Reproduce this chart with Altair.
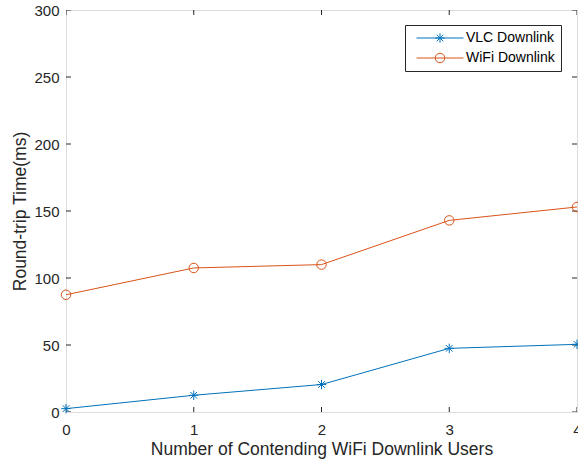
import altair as alt
import pandas as pd

# Round-trip time vs. number of contending WiFi downlink users
users = [0, 1, 2, 3, 4]
vlc_rtt = [2.5, 12.5, 20.5, 47.5, 50.5]
wifi_rtt = [87.5, 107.5, 110, 143, 153]
series_names = ["VLC Downlink", "WiFi Downlink"]
series_colors = ["#0072BD", "#D95319"]
x_domain = [0, 4]
y_domain = [0, 300]
x_ticks = [0, 1, 2, 3, 4]
y_ticks = [0, 50, 100, 150, 200, 250, 300]

FONT = "Liberation Sans"
AXIS_COLOR = "#262626"

df = pd.DataFrame({
    "users": users * 2,
    "rtt": vlc_rtt + wifi_rtt,
    "series": [series_names[0]] * len(users) + [series_names[1]] * len(users),
})

# tick positions along each edge of the plot box (bottom/top and left/right)
x_tick_df = pd.DataFrame({
    "users": x_ticks * 2,
    "rtt": [y_domain[0]] * len(x_ticks) + [y_domain[1]] * len(x_ticks),
})
y_tick_df = pd.DataFrame({
    "users": [x_domain[0]] * len(y_ticks) + [x_domain[1]] * len(y_ticks),
    "rtt": y_ticks * 2,
})

# marker shapes: asterisk (plus + cross) and circle
ASTER = "M-1,0L1,0M0,-1L0,1M-0.7,-0.7L0.7,0.7M-0.7,0.7L0.7,-0.7"
CIRCLE = "M-1,0A1,1 0 1,0 1,0A1,1 0 1,0 -1,0"
# legend glyphs: a line segment with the marker in the middle
LEG_VLC = "M-4.95,0L4.95,0" + ASTER
LEG_WIFI = "M-4.95,0L4.95,0" + CIRCLE

x_scale = alt.Scale(domain=x_domain, nice=False, zero=False)
y_scale = alt.Scale(domain=y_domain, nice=False)

label_axis_x = alt.Axis(
    values=x_ticks, ticks=False, domain=False, grid=False, labelFlush=False,
    labelFont=FONT, labelFontSize=15, labelColor=AXIS_COLOR, labelPadding=10,
    title="Number of Contending WiFi Downlink Users", titleFont=FONT,
    titleFontSize=17.5, titleFontWeight="normal", titleColor=AXIS_COLOR,
    titlePadding=3,
)
label_axis_y = alt.Axis(
    values=y_ticks, ticks=False, domain=False, grid=False,
    labelFont=FONT, labelFontSize=15, labelColor=AXIS_COLOR, labelPadding=7,
    title="Round-trip Time(ms)", titleFont=FONT, titleFontSize=17.5,
    titleFontWeight="normal", titleColor=AXIS_COLOR, titlePadding=4,
)

color_enc = alt.Color("series:N", scale=alt.Scale(domain=series_names, range=series_colors), legend=None)

lines = alt.Chart(df).mark_line(strokeWidth=1).encode(
    x=alt.X("users:Q", scale=x_scale, axis=label_axis_x),
    y=alt.Y("rtt:Q", scale=y_scale, axis=label_axis_y),
    color=color_enc,
    detail="series:N",
)

points = alt.Chart(df).mark_point(filled=False, strokeWidth=1, size=90, opacity=1).encode(
    x=alt.X("users:Q", scale=x_scale, axis=None),
    y=alt.Y("rtt:Q", scale=y_scale, axis=None),
    color=color_enc,
    shape=alt.Shape("series:N", scale=alt.Scale(domain=series_names, range=[ASTER, CIRCLE]), legend=None),
)

legend_box = alt.Legend(
    title=None, orient="none", legendX=339, legendY=15,
    labelFont=FONT, labelFontSize=14, labelColor="#000000",
    symbolSize=90, symbolStrokeWidth=1, symbolOffset=22,
    labelOffset=19, rowPadding=6, padding=6,
    strokeColor=AXIS_COLOR, fillColor="white",
)

# invisible layer that only carries the legend (line + marker glyphs)
legend_layer = alt.Chart(df).mark_point(filled=False, strokeWidth=1, size=90).encode(
    x=alt.X("users:Q", scale=x_scale, axis=None),
    y=alt.Y("rtt:Q", scale=y_scale, axis=None),
    color=alt.Color("series:N", scale=alt.Scale(domain=series_names, range=series_colors), legend=legend_box),
    shape=alt.Shape("series:N", scale=alt.Scale(domain=series_names, range=[LEG_VLC, LEG_WIFI]), legend=legend_box),
    opacity=alt.value(0),
)

# inward tick marks: centred on the box edge and clipped to the plot area
x_tick_marks = alt.Chart(x_tick_df).mark_tick(
    orient="vertical", size=10, thickness=1, color=AXIS_COLOR, clip=True, opacity=1
).encode(
    x=alt.X("users:Q", scale=x_scale, axis=None),
    y=alt.Y("rtt:Q", scale=y_scale, axis=None),
)
y_tick_marks = alt.Chart(y_tick_df).mark_tick(
    orient="horizontal", size=10, thickness=1, color=AXIS_COLOR, clip=True, opacity=1
).encode(
    x=alt.X("users:Q", scale=x_scale, axis=None),
    y=alt.Y("rtt:Q", scale=y_scale, axis=None),
)

chart = alt.layer(x_tick_marks, y_tick_marks, lines, points, legend_layer).resolve_scale(
    shape="independent", color="independent"
).resolve_axis(
    x="independent", y="independent"
).properties(
    width=511, height=402,
    autosize=alt.AutoSizeParams(type="none"),
    padding={"left": 66, "top": 10, "right": 1, "bottom": 55},
).configure_view(
    stroke=AXIS_COLOR, strokeWidth=1,
).configure(background="white")

chart.save("out.html", embed_options={"renderer": "svg", "actions": False})
